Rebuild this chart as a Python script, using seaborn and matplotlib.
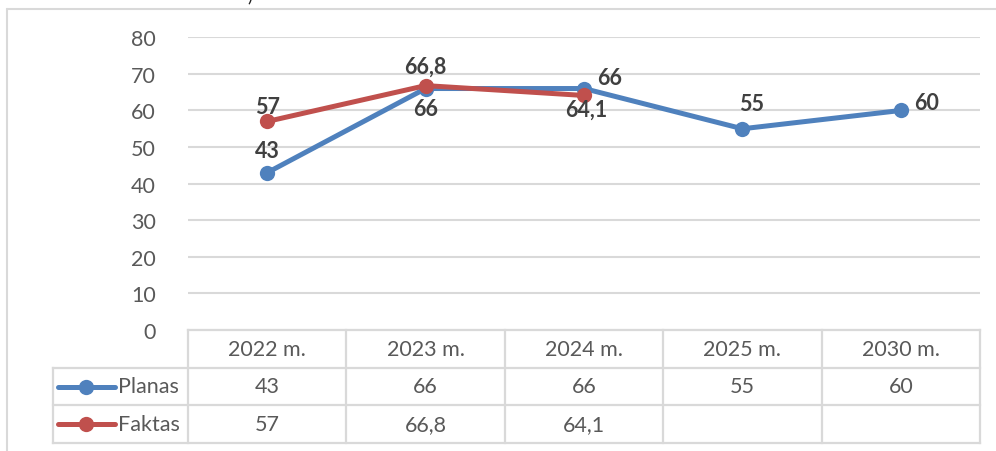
import numpy as np
import pandas as pd
import matplotlib.pyplot as plt
import seaborn as sns

# data
categories = ["2022 m.", "2023 m.", "2024 m.", "2025 m.", "2030 m."]
planas = [43, 66, 66, 55, 60]
faktas = [57, 66.8, 64.1, np.nan, np.nan]
series_names = ["Planas", "Faktas"]
colors = {"Planas": "#4f81bd", "Faktas": "#c0504d"}

df = pd.DataFrame({
    "pos": list(range(len(categories))) * 2,
    "value": planas + faktas,
    "series": ["Planas"] * len(planas) + ["Faktas"] * len(faktas),
})

sns.set_theme(style="white")
plt.rcParams["font.family"] = ["Lato", "DejaVu Sans"]

W, H = 996, 452
fig = plt.figure(figsize=(W / 100, H / 100), dpi=100)


def box(l, t, r, b):
    return [l / W, 1 - b / H, (r - l) / W, (b - t) / H]


grey = "#d9d9d9"
txt = "#595959"
lbl = "#404040"
fs = 15.5

# outer chart frame (top + left visible)
fig.add_artist(plt.Line2D([7 / W, 1], [1 - 10 / H, 1 - 10 / H], color=grey, lw=1.5))
fig.add_artist(plt.Line2D([7 / W, 7 / W], [0, 1 - 10 / H], color=grey, lw=1.5))
# tail of a caption above the chart, cut by the crop as in the source
fig.text(250 / W, 1 - 5 / H, ")", fontsize=13, color="#222222", va="bottom", ha="center")

# -----------------------------
# line chart
# -----------------------------
ax = fig.add_axes(box(188, 38.3, 980, 331))
sns.lineplot(data=df, x="pos", y="value", hue="series", hue_order=series_names,
             palette=colors, marker="o", markersize=11, markeredgewidth=0,
             linewidth=3.6, legend=False, ax=ax)
for ln in ax.lines:
    ln.set_clip_on(False)

ax.set_xlim(-0.5, len(categories) - 0.5)
ax.set_ylim(0, 80)
ax.set_yticks(range(0, 81, 10))
ax.set_xticks([])
ax.set_xlabel("")
ax.set_ylabel("")
ax.yaxis.grid(True, color=grey, lw=1.5)
ax.set_axisbelow(True)
for s in ax.spines.values():
    s.set_visible(False)
ax.tick_params(axis="y", length=0, pad=23, labelsize=fs, labelcolor=txt)

# data labels (offsets in pixels from the point)
offsets = {
    "Planas": [(0, -22), (0, 20), (26, -11), (9, -25), (26, -8)],
    "Faktas": [(0, -15), (0, -19), (2, 14), None, None],
}
for name, vals in zip(series_names, [planas, faktas]):
    for i, v in enumerate(vals):
        if np.isnan(v):
            continue
        dx, dy = offsets[name][i]
        ax.annotate(f"{v:g}".replace(".", ","), (i, v),
                    xytext=(dx * 0.72, -dy * 0.72), textcoords="offset points",
                    ha="center", va="center", fontsize=fs, fontweight="bold",
                    color=lbl, annotation_clip=False)

# -----------------------------
# data table
# -----------------------------
unit = (980 - 188) / len(categories)
L = -0.5 - (188 - 53) / unit
n = len(categories)
tax = fig.add_axes(box(53, 331, 980, 444))
tax.set_xlim(L, n - 0.5)
tax.set_ylim(3, 0)
tax.axis("off")

kw = dict(color=grey, lw=1.6, clip_on=False, solid_capstyle="projecting")
tax.plot([-0.5, n - 0.5], [0, 0], **kw)
for y in (1, 2, 3):
    tax.plot([L, n - 0.5], [y, y], **kw)
for i in range(n + 1):
    tax.plot([-0.5 + i, -0.5 + i], [0, 3], **kw)
tax.plot([L, L], [1, 3], **kw)

for i, c in enumerate(categories):
    tax.text(i, 0.5, c, ha="center", va="center", fontsize=fs, color=txt)

for r, (name, vals) in enumerate(zip(series_names, [planas, faktas]), start=1):
    for i, v in enumerate(vals):
        if np.isnan(v):
            continue
        tax.text(i, r + 0.5, f"{v:g}".replace(".", ","), ha="center", va="center",
                 fontsize=fs, color=txt)
    tax.plot([L + 5 / unit, L + 62 / unit], [r + 0.5, r + 0.5], color=colors[name],
             lw=3.6, solid_capstyle="round", clip_on=False)
    tax.plot([L + 33 / unit], [r + 0.5], "o", color=colors[name], ms=11, mew=0,
             clip_on=False)
    tax.text(L + 65 / unit, r + 0.5, name, ha="left", va="center", fontsize=fs,
             color=txt)

plt.savefig("out.png", dpi=100)
